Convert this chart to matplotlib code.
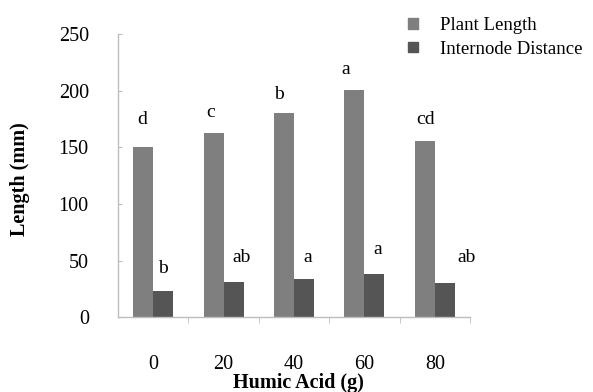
import matplotlib.pyplot as plt
import numpy as np
from matplotlib.patches import Patch

plt.rcParams['font.family'] = ['Liberation Serif', 'DejaVu Serif']

# data
humic = ['0', '20', '40', '60', '80']
plant_length = [150, 163, 180, 201, 156]
internode = [23.5, 31.5, 33.5, 38.5, 30]
plant_letters = ['d', 'c', 'b', 'a', 'cd']
internode_letters = ['b', 'ab', 'a', 'a', 'ab']
# letter positions (x offset from group centre, height)
plant_letter_dx = [-0.16, -0.19, -0.21, -0.26, -0.13]
plant_letter_y = [175, 181, 197, 219, 175]
inter_letter_dx = [0.14, 0.25, 0.20, 0.19, 0.45]
inter_letter_y = [43, 53, 53, 59.5, 53]

fig = plt.figure(figsize=(5.93, 3.92), dpi=100)
ax = fig.add_axes([0.199, 0.1906, 0.5936, 0.7224])

x = np.arange(1, len(humic) + 1)
w = 0.284
ax.bar(x - w / 2, plant_length, w, color='#7f7f7f', label='Plant Length')
ax.bar(x + w / 2, internode, w, color='#555555', label='Internode Distance')

for i in range(len(x)):
    ax.text(x[i] + plant_letter_dx[i], plant_letter_y[i], plant_letters[i],
            ha='center', va='center', fontsize=14)
    ax.text(x[i] + inter_letter_dx[i], inter_letter_y[i], internode_letters[i],
            ha='center', va='center', fontsize=14)

ax.set_xlim(0.5, 5.5)
ax.set_ylim(0, 250)
ax.set_yticks([0, 50, 100, 150, 200, 250])
ax.set_xticks(x)
ax.set_xticklabels(humic)
ax.set_xticks(np.arange(1.5, 5.6, 1), minor=True)

for s in ['top', 'right']:
    ax.spines[s].set_visible(False)
for s in ['left', 'bottom']:
    ax.spines[s].set_color('#bdbdbd')
    ax.spines[s].set_linewidth(1.0)

ax.tick_params(axis='y', direction='in', length=3, color='#bdbdbd',
               labelsize=14.5, pad=21)
ax.tick_params(axis='x', which='major', length=0, labelsize=14.5, pad=27)
ax.tick_params(axis='x', which='minor', direction='out', length=4, color='#bdbdbd')

fig.text(298 / 593, 1 - 383 / 392, 'Humic Acid (g)', fontsize=14.5,
         fontweight='bold', ha='center', va='center')
fig.text(20 / 593, 1 - 179 / 392, 'Length (mm)', fontsize=14.5,
         fontweight='bold', ha='center', va='center', rotation=90)

handles = [Patch(color='#7f7f7f'), Patch(color='#555555')]
fig.legend(handles, ['Plant Length', 'Internode Distance'],
           loc='upper left', bbox_to_anchor=(395 / 593, 1 - 4 / 392),
           frameon=False, fontsize=13.5, handlelength=0.5, handleheight=0.5,
           handletextpad=1.2, labelspacing=0.35, borderpad=0.2)

fig.savefig('out.png')
